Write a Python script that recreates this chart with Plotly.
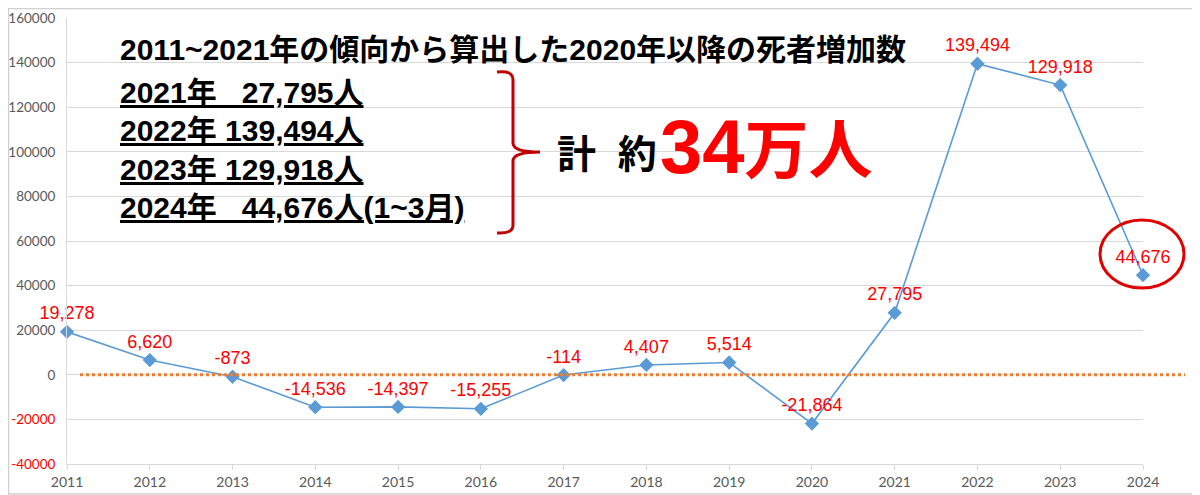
import plotly.graph_objects as go

# excess deaths per year (2024 = Jan-Mar only)
years = [2011, 2012, 2013, 2014, 2015, 2016, 2017, 2018, 2019, 2020, 2021, 2022, 2023, 2024]
excess = [19278, 6620, -873, -14536, -14397, -15255, -114, 4407, 5514, -21864,
          27795, 139494, 129918, 44676]

y_ticks = [-40000, -20000, 0, 20000, 40000, 60000, 80000, 100000, 120000, 140000, 160000]

title_line = "2011~2021年の傾向から算出した2020年以降の死者増加数"
summary_lines = [
    "2021年\u00a0\u00a0\u00a027,795人",
    "2022年 139,494人",
    "2023年 129,918人",
    "2024年\u00a0\u00a0\u00a044,676人(1~3月)",
]
total_prefix = "計\u00a0\u00a0約"
total_value = "34万人"

# page body has an 8px margin, so the figure is shrunk and shifted to compensate
OFF = 8
W, H = 1200 - OFF, 495 - OFF
PLOT_X0, PLOT_X1, PLOT_Y0, PLOT_Y1 = 67, 1143, 18, 464   # plot area on screen
L, R = PLOT_X0 - OFF, (W + OFF) - PLOT_X1
T, B = PLOT_Y0 - OFF, (H + OFF) - PLOT_Y1
PW, PH = PLOT_X1 - PLOT_X0, PLOT_Y1 - PLOT_Y0


# screen pixel -> paper coordinates (for decorations only)
def px(x):
    return (x - PLOT_X0) / PW


def py(y):
    return (PLOT_Y1 - y) / PH


BLUE = "#5B9BD5"
RED = "#FF0000"
GRAY = "#595959"
TXT_FONT = "Liberation Sans, Arial, Noto Sans CJK JP"

fig = go.Figure()
fig.add_trace(go.Scatter(
    x=years, y=excess,
    mode="lines+markers+text",
    line=dict(color=BLUE, width=1.6),
    marker=dict(symbol="diamond", size=11, color=BLUE),
    text=[f"{v:,}" for v in excess],
    textposition="top center",
    textfont=dict(family="Liberation Sans, Arial", size=18, color=RED),
    cliponaxis=False,
    showlegend=False,
))

tick_text = [f"<span style='color:{RED}'>{v}</span>" if v < 0 else str(v) for v in y_ticks]

fig.update_layout(
    width=W, height=H,
    margin=dict(l=L, r=R, t=T, b=B, autoexpand=False),
    paper_bgcolor="white", plot_bgcolor="white",
    font=dict(family="Lato, Open Sans, sans-serif", size=14, color=GRAY),
    xaxis=dict(range=[2011, 2024], tickmode="array", tickvals=years, automargin=False,
               showgrid=False, showline=True, linecolor="#d9d9d9", linewidth=1,
               ticks="outside", ticklen=5, tickcolor="#d9d9d9", zeroline=False),
    yaxis=dict(range=[-40000, 160000.5], tickmode="array", tickvals=y_ticks, ticktext=tick_text,
               automargin=False, tickfont=dict(size=13.5), ticklabeloverflow="allow",
               showgrid=True, gridcolor="#d9d9d9", gridwidth=1,
               showline=True, linecolor="#d9d9d9", linewidth=1,
               zeroline=False, ticks="", ticklabelstandoff=8),
)

shapes = [
    # outer frame
    dict(type="rect", xref="paper", yref="paper", x0=px(OFF + 0.5), x1=px(1198), y0=py(494), y1=py(OFF + 0.5),
         line=dict(color="#d0d0d0", width=1.5), layer="below"),
    # orange dotted zero line
    dict(type="line", xref="paper", yref="y", x0=px(80), x1=px(1185), y0=0, y1=0,
         line=dict(color="#ED7D31", width=3, dash="dot")),
    # red circle around the 2024 point
    dict(type="circle", xref="paper", yref="paper", x0=px(1100), x1=px(1184), y0=py(288), y1=py(220),
         line=dict(color="#E00000", width=3)),
    # curly brace
    dict(type="path", xref="paper", yref="paper",
         path=(f"M {px(497)},{py(72)} Q {px(513)},{py(70)} {px(513)},{py(80)} "
               f"L {px(513)},{py(143)} Q {px(513)},{py(152)} {px(540)},{py(152)} "
               f"Q {px(513)},{py(152)} {px(513)},{py(161)} "
               f"L {px(513)},{py(225)} Q {px(513)},{py(234)} {px(497)},{py(233)}"),
         line=dict(color="#C00000", width=3)),
]
fig.update_layout(shapes=shapes)

fig.add_annotation(x=px(118), y=py(50), xref="paper", yref="paper", xanchor="left", yanchor="middle",
                   text=f"<b>{title_line}</b>", showarrow=False,
                   font=dict(family=TXT_FONT, size=30, color="black"))
for i, line in enumerate(summary_lines):
    fig.add_annotation(x=px(118), y=py(92 + 38.5 * i), xref="paper", yref="paper",
                       xanchor="left", yanchor="middle",
                       text=f"<b><u>{line}</u></b>", showarrow=False,
                       font=dict(family=TXT_FONT, size=30, color="black"))

fig.add_annotation(x=px(555), y=py(154), xref="paper", yref="paper", xanchor="left", yanchor="middle",
                   text=f"<b>{total_prefix}</b>", showarrow=False,
                   font=dict(family=TXT_FONT, size=39, color="black"))
fig.add_annotation(x=px(658), y=py(146), xref="paper", yref="paper", xanchor="left", yanchor="middle",
                   text=f"<b><span style='font-size:76px'>{total_value[:2]}</span>{total_value[2:]}</b>",
                   showarrow=False,
                   font=dict(family=TXT_FONT, size=64, color=RED))

fig.write_html("out.html")
